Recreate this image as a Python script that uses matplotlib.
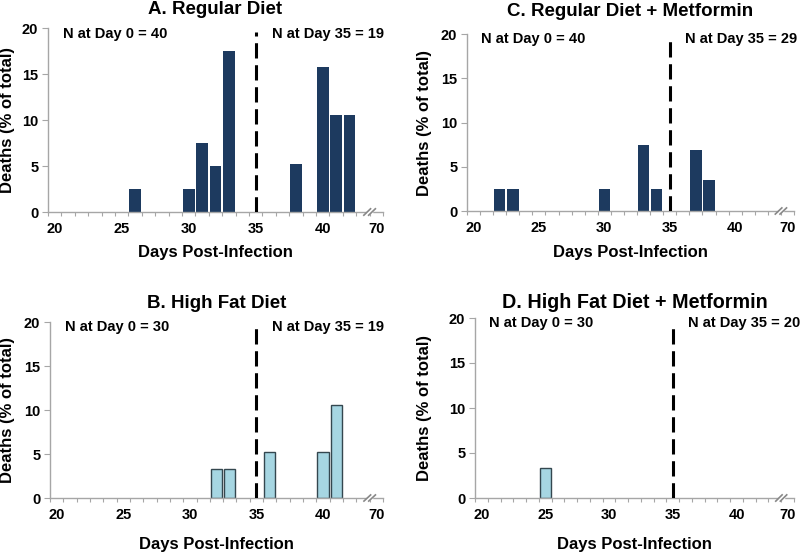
import matplotlib
matplotlib.use("Agg")
import matplotlib.pyplot as plt
import numpy as np

plt.rcParams['font.family'] = ['Liberation Sans', 'DejaVu Sans']
plt.rcParams['font.weight'] = 'bold'

# categories on the x axis: days 20..43, then a break, then 70
days = list(range(20, 44)) + [70]
tick_days = [20, 25, 30, 35, 40, 70]
tick_labels = ["20", "25", "30", "35", "40", "70"]

# deaths (% of total) per day for each panel
a_days = [26, 30, 31, 32, 33, 38, 40, 41, 42]
a_vals = [2.5, 2.5, 7.5, 5.0, 17.5, 5.26, 15.79, 10.53, 10.53]

b_days = [32, 33, 36, 40, 41]
b_vals = [3.33, 3.33, 5.26, 5.26, 10.53]

c_days = [22, 23, 30, 33, 34, 37, 38]
c_vals = [2.5, 2.5, 2.5, 7.5, 2.5, 6.9, 3.45]

d_days = [25]
d_vals = [3.33]

titles = ["A. Regular Diet", "B. High Fat Diet",
          "C. Regular Diet + Metformin", "D. High Fat Diet + Metformin"]
n_day0 = ["N at Day 0 = 40", "N at Day 0 = 30", "N at Day 0 = 40", "N at Day 0 = 30"]
n_day35 = ["N at Day 35 = 19", "N at Day 35 = 19", "N at Day 35 = 29", "N at Day 35 = 20"]

dark = "#1D3A5F"
light = "#A6D6E2"
edge_light = "#34474F"
axis_gray = "#A6A6A6"

W, H = 800, 556
fig = plt.figure(figsize=(8, 5.56), dpi=100)

def px_axes(left, right, top, bottom):
    return fig.add_axes([left / W, 1 - bottom / H, (right - left) / W, (bottom - top) / H])

panels = [
    # (left, right, top, bottom), days, vals, color, edge, title offset px, ylabel x px, xlabel y px, title size
    ((48, 383, 28, 212), a_days, a_vals, dark, dark, 18, 8, 252, 13.5),
    ((50, 383, 322, 498), b_days, b_vals, light, edge_light, 19, 8, 544, 13.5),
    ((467, 794, 34, 211), c_days, c_vals, dark, dark, 22, 424, 252, 13.5),
    ((475, 794, 318, 498), d_days, d_vals, light, edge_light, 15, 425, 544, 14.2),
]

idx = {d: i for i, d in enumerate(days)}

for k, (box, pd, pv, col, ec, toff, ylx, xly, tfs) in enumerate(panels):
    left, right, top, bottom = box
    ax = px_axes(left, right, top, bottom)
    xs = [idx[d] for d in pd]
    if col == dark:
        ax.bar(xs, pv, width=0.88, color=col, edgecolor='none', zorder=2)
    else:
        ax.bar(xs, pv, width=0.85, color=col, edgecolor=ec, linewidth=1.0, zorder=2)
    ax.set_xlim(-0.5, len(days) - 0.5)
    ax.set_ylim(0, 20)
    ax.set_yticks([0, 5, 10, 15, 20])
    ax.set_yticklabels(["0", "5", "10", "15", "20"], fontsize=10.5, fontweight='bold')
    ax.set_xticks([idx[d] for d in tick_days])
    ax.set_xticklabels(tick_labels, fontsize=10.5, fontweight='bold')
    ax.tick_params(axis='x', which='major', length=0, pad=7.5)
    ax.set_xticks(np.arange(-0.5, len(days) - 0.5 + 0.01, 1.0), minor=True)
    ax.tick_params(axis='x', which='minor', length=3, direction='out', color=axis_gray, width=0.8)
    ax.tick_params(axis='y', length=4, direction='out', color=axis_gray, width=0.8, pad=3)
    for s in ['top', 'right']:
        ax.spines[s].set_visible(False)
    for s in ['left', 'bottom']:
        ax.spines[s].set_color(axis_gray)
        ax.spines[s].set_linewidth(1.0)
    # dashed line at day 35
    ax.plot([idx[35], idx[35]], [0, 19.6], color='black', lw=2.2,
            linestyle=(0, (5, 2.2)), zorder=3)
    # axis break mark between 43 and 70
    bx = idx[43] + 0.5
    for off in (-0.18, 0.18):
        ax.plot([bx + off - 0.25, bx + off + 0.25], [-0.35, 0.35], color='#888888',
                lw=1.2, clip_on=False, zorder=4)
    ax.plot([bx - 0.1, bx + 0.1], [0, 0], color='white', lw=2.5, clip_on=False, zorder=3.5)
    # annotations
    ax.text(idx[20] + 0.6, 19.4, n_day0[k], fontsize=10.5, fontweight='bold',
            ha='left', va='center')
    ax.text(idx[36] + 0.2, 19.4, n_day35[k], fontsize=10.5, fontweight='bold',
            ha='left', va='center')
    # title
    fig.text((left + right) / 2 / W, 1 - (top - toff) / H, titles[k], fontsize=tfs,
             fontweight='bold', ha='center', va='center')
    fig.text(ylx / W, 1 - (top + bottom) / 2 / H, "Deaths (% of total)", fontsize=12,
             fontweight='bold', rotation=90, ha='center', va='center')
    fig.text((left + right) / 2 / W, 1 - xly / H, "Days Post-Infection", fontsize=12,
             fontweight='bold', ha='center', va='center')

fig.savefig("out.png", dpi=100)
